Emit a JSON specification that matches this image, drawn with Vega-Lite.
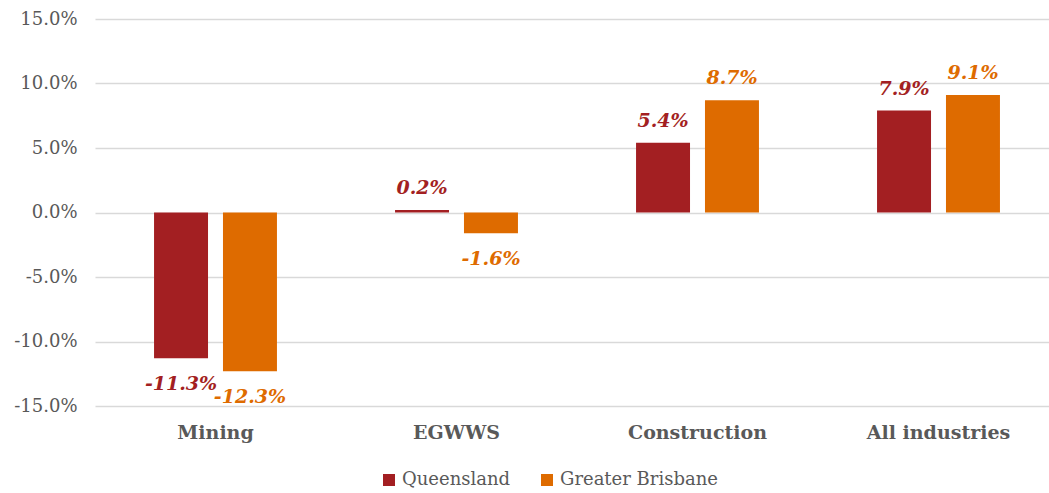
{
  "$schema": "https://vega.github.io/schema/vega-lite/v6.json",
  "width": 954,
  "height": 387,
  "autosize": {"type": "none"},
  "padding": {"left": 95, "top": 19, "right": 0, "bottom": 87},
  "background": "white",
  "config": {
    "font": "DejaVu Serif",
    "view": {"stroke": null},
    "locale": {
      "number": {"decimal": ".", "thousands": ",", "grouping": [3], "currency": ["$", ""], "minus": "-"}
    }
  },
  "data": {
    "values": [
      {"industry": "Mining", "region": "Queensland", "value": -0.113},
      {"industry": "Mining", "region": "Greater Brisbane", "value": -0.123},
      {"industry": "EGWWS", "region": "Queensland", "value": 0.002},
      {"industry": "EGWWS", "region": "Greater Brisbane", "value": -0.016},
      {"industry": "Construction", "region": "Queensland", "value": 0.054},
      {"industry": "Construction", "region": "Greater Brisbane", "value": 0.087},
      {"industry": "All industries", "region": "Queensland", "value": 0.079},
      {"industry": "All industries", "region": "Greater Brisbane", "value": 0.091}
    ]
  },
  "encoding": {
    "x": {
      "field": "industry",
      "type": "nominal",
      "sort": ["Mining", "EGWWS", "Construction", "All industries"],
      "scale": {"range": [0, 964], "paddingInner": 0.49, "paddingOuter": 0.245},
      "axis": {
        "title": null,
        "labelAngle": 0,
        "domain": false,
        "ticks": false,
        "labelFontWeight": "bold",
        "labelFontSize": 19,
        "labelColor": "#595959",
        "labelPadding": 17
      }
    },
    "xOffset": {
      "field": "region",
      "type": "nominal",
      "sort": ["Queensland", "Greater Brisbane"],
      "scale": {"paddingInner": 0.217}
    },
    "y": {
      "field": "value",
      "type": "quantitative",
      "scale": {"domain": [-0.15, 0.15], "nice": false, "zero": false},
      "axis": {
        "title": null,
        "format": ".1%",
        "values": [-0.15, -0.1, -0.05, 0, 0.05, 0.1, 0.15],
        "domain": false,
        "ticks": false,
        "gridColor": "#d9d9d9",
        "gridWidth": 1.5,
        "labelFontSize": 18,
        "labelColor": "#595959",
        "labelPadding": 18
      }
    },
    "color": {
      "field": "region",
      "type": "nominal",
      "sort": ["Queensland", "Greater Brisbane"],
      "scale": {"domain": ["Queensland", "Greater Brisbane"], "range": ["#A31F22", "#DE6B00"]},
      "legend": {
        "title": null,
        "orient": "none",
        "legendX": 285,
        "legendY": 452,
        "padding": 0,
        "direction": "horizontal",
        "symbolType": "square",
        "symbolSize": 144,
        "symbolStrokeWidth": 0,
        "labelFontSize": 18,
        "labelColor": "#595959",
        "columnPadding": 27,
        "symbolOffset": 0,
        "labelOffset": 4
      }
    }
  },
  "layer": [
    {"mark": {"type": "bar"}},
    {
      "transform": [{"filter": "datum.value >= 0"}],
      "mark": {"type": "text", "fontStyle": "italic", "fontWeight": "bold", "fontSize": 19, "baseline": "middle", "dy": -22},
      "encoding": {"text": {"field": "value", "type": "quantitative", "format": ".1%"}}
    },
    {
      "transform": [{"filter": "datum.value < 0"}],
      "mark": {"type": "text", "fontStyle": "italic", "fontWeight": "bold", "fontSize": 19, "baseline": "middle", "dy": 26},
      "encoding": {"text": {"field": "value", "type": "quantitative", "format": ".1%"}}
    }
  ]
}
